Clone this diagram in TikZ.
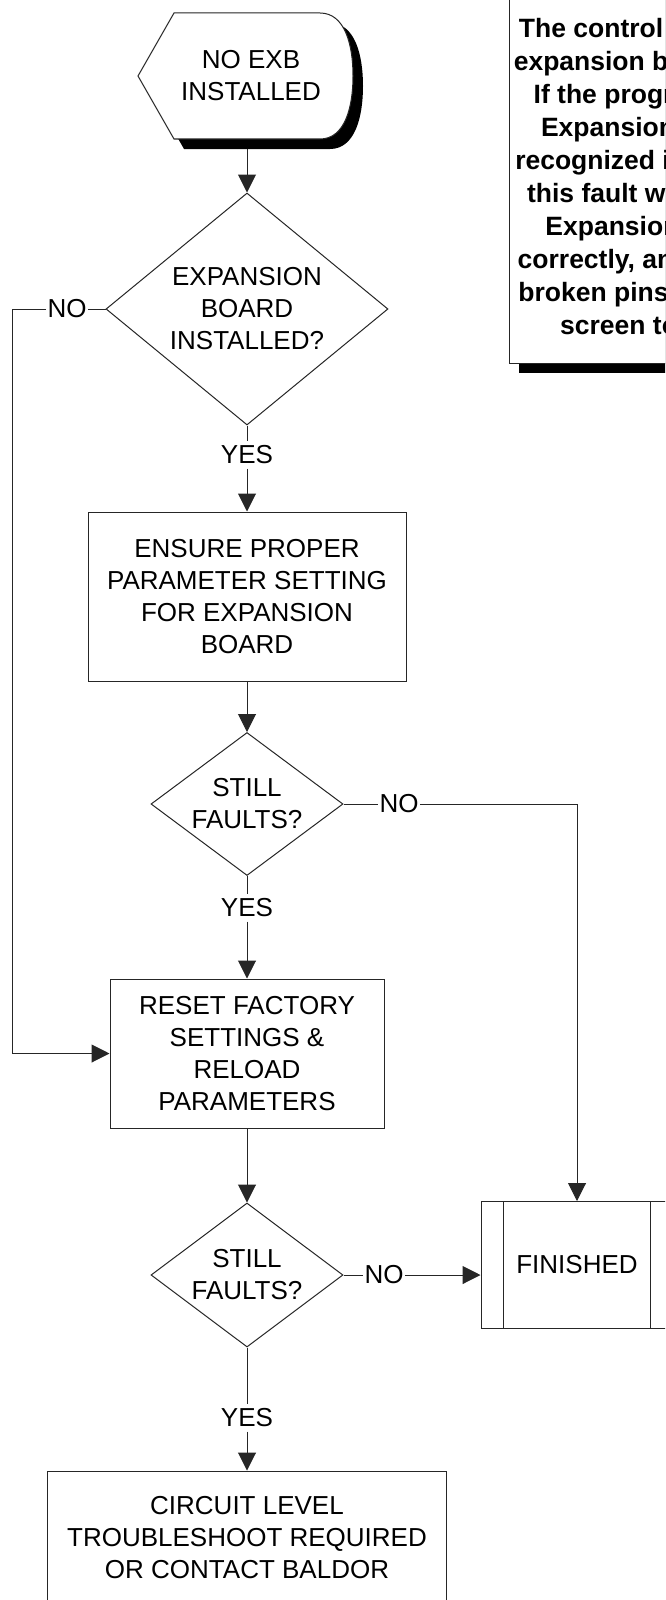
\documentclass[tikz,border=0pt]{standalone}
\usepackage{fontspec}
\setmainfont{Liberation Sans}
\usetikzlibrary{shapes.geometric,arrows.meta,positioning,shadows}
\newcommand\flowfont{\fontsize{13pt}{16pt}\selectfont}
\newcommand\notefont{\fontsize{13.25pt}{16.5pt}\selectfont\bfseries}

\begin{document}
\begin{tikzpicture}[x=0.5pt,y=-0.5pt,
	line/.style={draw=black!85,line width=0.5pt},
	arr/.style={line,-{Triangle[length=9pt,width=9pt]}},
	procbox/.style={line,fill=white,inner sep=0pt,align=center,font=\flowfont},
	decision/.style={diamond,line,fill=white,inner sep=0pt,align=center,font=\flowfont},
	lbl/.style={inner xsep=0.5pt,inner ysep=2pt,font=\flowfont},
	notebox/.style={line,fill=white,inner sep=0pt,align=center,font=\notefont,
		drop shadow={fill=black,opacity=1,shadow xshift=5pt,shadow yshift=-5pt}}]
	\useasboundingbox (0,0) rectangle (665,1600);
	\clip (0,0) rectangle (665,1600);

	% start terminal with its shadow
	\fill[black,shift={(10,10)}] (138,76) -- (174,13) -- (320,13) .. controls (345,13) and (353,45) .. (353,76)
		.. controls (353,107) and (345,139) .. (320,139) -- (174,139) -- cycle;
	\filldraw[line,fill=white] (138,76) -- (174,13) -- (320,13) .. controls (345,13) and (353,45) .. (353,76)
		.. controls (353,107) and (345,139) .. (320,139) -- (174,139) -- cycle;
	\node[font=\flowfont,align=center] (start) at (251,76) {NO EXB\\INSTALLED};
	\coordinate (startout) at (247,149);

	% note
	\node[notebox,minimum width=141pt,minimum height=186.5pt] (note) at (650,176.5)
		{The control is set for\\expansion board use.\\If the programmed\\Expansion Board\\recognized is absent,\\this fault will occur.\\Expansion is set\\correctly, and has no\\broken pins. Use the\\screen to test.};

	% flow
	\node[decision,minimum width=141pt,minimum height=116pt,aspect=1.2] (expb) at (247,309) {EXPANSION\\BOARD\\INSTALLED?};
	\node[procbox,minimum width=159pt,minimum height=84.5pt] (ensure) at (247,596.5) {ENSURE PROPER\\PARAMETER SETTING\\FOR EXPANSION\\BOARD};
	\node[decision,minimum width=96pt,minimum height=71.5pt,aspect=1.34] (still1) at (247,804) {STILL\\FAULTS?};
	\node[procbox,minimum width=137pt,minimum height=74.5pt] (reset) at (247,1053.5) {RESET FACTORY\\SETTINGS \&\\RELOAD\\PARAMETERS};
	\node[decision,minimum width=96pt,minimum height=72pt,aspect=1.34] (still2) at (247,1275) {STILL\\FAULTS?};
	\node[procbox,minimum width=199.5pt,minimum height=67pt] (baldor) at (247,1538) {CIRCUIT LEVEL\\TROUBLESHOOT REQUIRED\\OR CONTACT BALDOR};
	\node[procbox,minimum width=96pt,minimum height=63.5pt] (finished) at (577,1265) {FINISHED};
	\draw[line] ([xshift=11.5pt]finished.north west) -- ([xshift=11.5pt]finished.south west);
	\draw[line] ([xshift=-11.5pt]finished.north east) -- ([xshift=-11.5pt]finished.south east);

	% labels
	\node[lbl] (no1) at (67,309) {NO};
	\node[lbl] (yes1) at (247,455) {YES};
	\node[lbl] (no2) at (399,804) {NO};
	\node[lbl] (yes2) at (247,908) {YES};
	\node[lbl] (no3) at (384,1275) {NO};
	\node[lbl] (yes3) at (247,1418) {YES};
	\coordinate (leftrail) at (12,309);

	% connectors
	\draw[arr] (startout) -- (expb.north);
	\draw[line] (expb.south) -- (yes1.north);
	\draw[arr] (yes1.south) -- (ensure.north);
	\draw[arr] (ensure.south) -- (still1.north);
	\draw[line] (still1.south) -- (yes2.north);
	\draw[arr] (yes2.south) -- (reset.north);
	\draw[arr] (reset.south) -- (still2.north);
	\draw[line] (still2.south) -- (yes3.north);
	\draw[arr] (yes3.south) -- (baldor.north);
	\draw[line] (expb.west) -- (no1.east);
	\draw[arr] (no1.west) -- (leftrail) |- (reset.west);
	\draw[line] (still1.east) -- (no2.west);
	\draw[arr] (no2.east) -| (finished.north);
	\draw[line] (still2.east) -- (no3.west);
	\draw[arr] (no3.east) -- (no3.east -| finished.west);
\end{tikzpicture}
\end{document}
